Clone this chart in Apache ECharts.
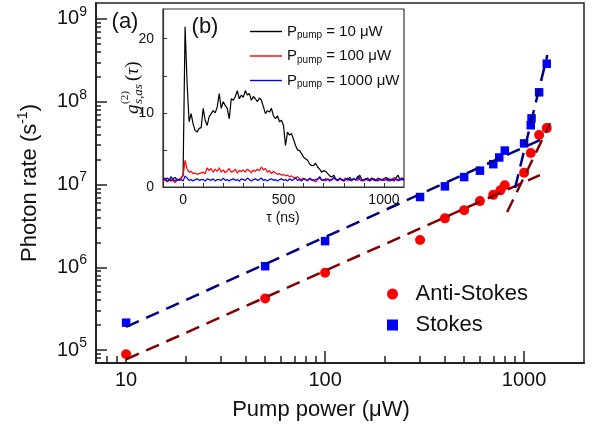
<!DOCTYPE html>
<html>
<head>
<meta charset="utf-8">
<script src="https://cdn.jsdelivr.net/npm/echarts@6/dist/echarts.min.js"></script>
<style>html,body{margin:0;background:#fff}#main{width:593px;height:432px}</style>
</head>
<body>
<div id="main"></div>
<script>
const FONT = 'Liberation Sans'
const SERIF = 'Liberation Serif'

// main panel (a): photon rate vs pump power
const asPower = [10, 50, 100, 300, 400, 500, 600, 700, 760, 800, 1000, 1080, 1190, 1300]
const asRate = [8.9e4, 4.2e5, 8.6e5, 2.13e6, 3.9e6, 4.9e6, 6.3e6, 7.5e6, 8.5e6, 9.8e6, 1.39e7, 2.4e7, 3.97e7, 4.8e7]
const sPower = [10, 50, 100, 300, 400, 500, 600, 700, 750, 800, 1000, 1080, 1090, 1190, 1300]
const sRate = [2.14e5, 1.03e6, 2.07e6, 7.06e6, 9.5e6, 1.23e7, 1.47e7, 1.76e7, 2.12e7, 2.57e7, 3.14e7, 5.2e7, 6.3e7, 1.3e8, 2.88e8]

// dashed fit lines (end points)
const asFitLow = [[10, 7.7e4], [1200, 1.3e7]]
const asFitHigh = [[822, 4.65e6], [1352, 5.5e7]]
const sFitLow = [[10, 1.9e5], [1220, 3.5e7]]
const sFitHigh = [[901, 9.1e6], [1309, 3.67e8]]

const xMajor = [10, 100, 1000]
const xMinor = [8, 9, 20, 30, 40, 50, 60, 70, 80, 90, 200, 300, 400, 500, 600, 700, 800, 900]
const yMajor = [1e5, 1e6, 1e7, 1e8, 1e9]
const yMinor = [8e4, 9e4, 2e5, 3e5, 4e5, 5e5, 6e5, 7e5, 8e5, 9e5,
  2e6, 3e6, 4e6, 5e6, 6e6, 7e6, 8e6, 9e6, 2e7, 3e7, 4e7, 5e7, 6e7, 7e7, 8e7, 9e7,
  2e8, 3e8, 4e8, 5e8, 6e8, 7e8, 8e8, 9e8]

// inset (b): g2 vs tau, sampled every 10 ns from -100 to 1100
const tau = []
for (let t = -100; t <= 1100; t += 10) tau.push(t)
const g10 = [
  1.1, 0.9, 1.2, 1.0, 0.8, 1.1, 1.3, 0.9, 1.0, 1.2,
  1.6, 21.6, 14.0, 8.8, 9.9, 8.5, 7.6, 7.4, 7.9, 8.0,
  10.6, 9.0, 8.3, 9.5, 9.9, 10.3, 10.0, 10.8, 12.6, 10.6,
  11.5, 11.0, 10.6, 9.2, 11.9, 11.7, 12.2, 13.0, 11.9, 12.4,
  12.1, 13.0, 12.4, 12.6, 11.7, 12.2, 11.9, 11.5, 12.0, 11.7,
  10.8, 9.9, 10.3, 10.1, 10.6, 9.6, 9.2, 9.6, 8.8, 9.0,
  8.3, 5.6, 7.4, 7.0, 7.2, 6.4, 5.6, 5.0, 4.9, 4.5,
  4.0, 3.8, 3.6, 3.1, 2.9, 2.9, 3.2, 2.7, 2.4, 2.0,
  2.2, 2.1, 1.8, 1.5, 1.35, 1.6, 1.1, 0.9, 1.2, 1.0,
  0.8, 1.1, 1.0, 1.3, 0.9, 1.1, 1.0, 1.2, 1.6, 1.0,
  0.9, 1.1, 1.2, 0.8, 1.0, 1.1, 0.9, 1.2, 1.0, 0.9,
  1.1, 1.3, 1.0, 0.8, 1.1, 1.0, 1.2, 1.6, 1.0, 1.2,
  1.1]
const g100 = [
  0.8, 1.0, 0.7, 0.9, 1.1, 0.8, 0.6, 0.9, 1.0, 1.2,
  1.5, 3.6, 2.4, 2.0, 2.1, 1.8, 1.9, 1.7, 1.8, 1.9,
  2.0, 1.8, 2.6, 2.2, 2.5, 2.0, 2.4, 2.1, 2.6, 2.0,
  2.3, 1.9, 2.2, 2.5, 2.0, 2.1, 2.4, 1.9, 2.2, 2.1,
  2.3, 2.0, 2.4, 2.2, 1.9, 2.3, 2.1, 2.4, 2.2, 2.7,
  2.3, 2.5, 2.0, 2.2, 1.8, 2.1, 1.9, 1.7, 1.8, 1.6,
  1.7, 1.5, 1.6, 1.4, 1.5, 1.3, 1.2, 1.4, 1.1, 1.0,
  1.2, 1.0, 0.8, 1.1, 0.9, 1.0, 0.7, 1.0, 1.2, 0.9,
  1.0, 0.8, 1.1, 1.0, 0.9, 1.2, 1.0, 0.8, 1.1, 0.9,
  1.0, 1.2, 0.9, 1.0, 0.8, 1.1, 1.0, 0.9, 1.3, 1.0,
  0.8, 1.0, 1.1, 0.9, 1.2, 1.0, 0.8, 1.1, 1.0, 0.9,
  1.2, 1.0, 0.8, 1.1, 0.9, 1.3, 1.0, 0.8, 1.1, 1.0,
  0.9]
const g1000 = [
  1.0, 1.2, 0.8, 0.9, 1.4, 1.0, 0.8, 1.1, 0.9, 1.0,
  0.8, 1.5, 1.2, 0.9, 1.0, 0.8, 1.0, 1.1, 0.9, 1.0,
  1.0, 0.8, 1.1, 1.0, 0.9, 1.1, 0.8, 1.0, 1.0, 0.9,
  1.2, 0.9, 1.0, 0.8, 1.0, 1.1, 0.9, 1.0, 0.8, 1.1,
  1.0, 0.9, 1.2, 1.0, 0.8, 1.0, 1.1, 0.9, 1.0, 1.2,
  0.9, 1.0, 0.8, 1.0, 1.1, 0.9, 1.0, 0.8, 1.0, 1.1,
  0.9, 1.0, 0.8, 1.1, 0.9, 1.0, 1.2, 0.9, 1.0, 0.8,
  1.1, 1.0, 0.9, 1.2, 1.0, 0.8, 1.0, 1.1, 1.4, 1.0,
  0.9, 1.1, 1.0, 0.8, 1.0, 1.3, 1.0, 0.9, 1.1, 1.0,
  0.8, 1.0, 1.2, 0.9, 1.0, 1.1, 0.9, 1.5, 1.0, 0.8,
  1.0, 1.1, 0.9, 1.0, 1.2, 0.9, 1.0, 0.8, 1.1, 1.0,
  0.9, 1.0, 1.2, 0.9, 1.0, 0.8, 1.1, 1.0, 0.9, 1.1,
  1.0]
const insetXLabels = [0, 500, 1000]
const insetXTicks = [0, 100, 200, 300, 400, 500, 600, 700, 800, 900, 1000]
const insetYLabels = [0, 10, 20]
const insetYTicks = [0, 5, 10, 15, 20]
const pumpPowers = ['10', '100', '1000']

const zip = (a, b) => a.map((v, i) => [v, b[i]])
const SQUARE = 'path://M0,0H10V10H0Z'

const chart = echarts.init(document.getElementById('main'))

const axisCol = '#222'
const minorAxis = (extra) => Object.assign({
  axisLine: { show: false, onZero: false },
  axisLabel: { show: false },
  splitLine: { show: false }
}, extra)

const option = {
  animation: false,
  backgroundColor: '#fff',
  grid: [
    { left: 96, top: 3, right: 9, bottom: 69, show: true, borderColor: axisCol, borderWidth: 1.5 },
    { left: 163, top: 9, width: 241, height: 178, show: true, borderColor: '#333', borderWidth: 1.2, backgroundColor: '#fff', z: 5 }
  ],
  xAxis: [
    {
      type: 'log', gridIndex: 0, position: 'bottom', min: 7.06, max: 2000,
      axisLine: { onZero: false, lineStyle: { color: axisCol, width: 2 } },
      axisTick: { inside: true, length: 12, customValues: xMajor, lineStyle: { color: axisCol, width: 1.5 } },
      axisLabel: { customValues: xMajor, formatter: v => String(v), fontSize: 20, fontFamily: FONT, color: '#111', margin: 7 },
      splitLine: { show: false }
    },
    minorAxis({
      type: 'log', gridIndex: 0, position: 'bottom', min: 7.06, max: 2000,
      axisTick: { inside: true, length: 7, customValues: xMinor, lineStyle: { color: axisCol, width: 1.5 } }
    }),
    {
      type: 'value', gridIndex: 1, position: 'bottom', min: -100, max: 1100, z: 6,
      axisLine: { onZero: false, lineStyle: { color: '#333', width: 1.2 } },
      axisTick: { inside: true, length: 4, customValues: insetXTicks, lineStyle: { color: '#333' } },
      axisLabel: { customValues: insetXLabels, formatter: v => String(v), fontSize: 14, fontFamily: FONT, color: '#111', margin: 6 },
      splitLine: { show: false }
    }
  ],
  yAxis: [
    {
      type: 'log', gridIndex: 0, position: 'left', min: 6.97e4, max: 1.56e9,
      axisLine: { onZero: false, lineStyle: { color: axisCol, width: 2 } },
      axisTick: { inside: true, length: 11, customValues: yMajor, lineStyle: { color: axisCol, width: 1.5 } },
      axisLabel: {
        customValues: yMajor, margin: 9,
        formatter: v => '{b|10}{s|' + Math.round(Math.log10(v)) + '}',
        rich: {
          b: { fontSize: 20, fontFamily: FONT, color: '#111', lineHeight: 28 },
          s: { fontSize: 14, fontFamily: FONT, color: '#111', lineHeight: 14, verticalAlign: 'top' }
        }
      },
      splitLine: { show: false }
    },
    minorAxis({
      type: 'log', gridIndex: 0, position: 'left', min: 6.97e4, max: 1.56e9,
      axisTick: { inside: true, length: 5, customValues: yMinor, lineStyle: { color: axisCol, width: 1.5 } }
    }),
    {
      type: 'value', gridIndex: 1, position: 'left', min: 0, max: 24, z: 6,
      axisLine: { onZero: false, lineStyle: { color: '#333', width: 1.2 } },
      axisTick: { inside: true, length: 4, customValues: insetYTicks, lineStyle: { color: '#333' } },
      axisLabel: { customValues: insetYLabels, fontSize: 14, fontFamily: FONT, color: '#111', margin: 9 },
      splitLine: { show: false }
    }
  ],
  legend: [
    {
      data: ['Anti-Stokes', 'Stokes'], orient: 'vertical', left: 387, top: 283,
      itemWidth: 36, itemHeight: 11, itemGap: 9, padding: 0,
      textStyle: { fontSize: 22, fontFamily: FONT, color: '#111', lineHeight: 22 }
    },
    {
      data: pumpPowers.map(p => 'P' + p), orient: 'vertical', left: 250, top: 24, z: 10,
      icon: 'path://M0,0H32V1.4H0Z', symbolKeepAspect: false,
      itemWidth: 32, itemHeight: 1.4, itemGap: 8, padding: 0,
      formatter: name => '{p|P}{sub|pump}{p| = ' + name.slice(1) + ' μW}',
      textStyle: {
        rich: {
          p: { fontSize: 15, fontFamily: FONT, color: '#111', lineHeight: 18 },
          sub: { fontSize: 10, fontFamily: FONT, color: '#111', lineHeight: 10, verticalAlign: 'bottom' }
        }
      }
    }
  ],
  series: [
    { name: 'asFitLow', type: 'line', data: asFitLow, symbol: 'none', z: 4, lineStyle: { color: '#800000', width: 2.5, type: [14, 8] } },
    { name: 'asFitHigh', type: 'line', data: asFitHigh, symbol: 'none', z: 4, lineStyle: { color: '#800000', width: 2.5, type: [14, 8] } },
    { name: 'sFitLow', type: 'line', data: sFitLow, symbol: 'none', z: 4, lineStyle: { color: '#000080', width: 2.5, type: [14, 8] } },
    { name: 'sFitHigh', type: 'line', data: sFitHigh, symbol: 'none', z: 4, lineStyle: { color: '#000080', width: 2.5, type: [14, 8] } },
    { name: 'Anti-Stokes', type: 'scatter', data: zip(asPower, asRate), symbol: 'circle', symbolSize: 10, itemStyle: { color: '#ff0000', opacity: 1 }, z: 3 },
    { name: 'Stokes', type: 'scatter', data: zip(sPower, sRate), symbol: SQUARE, symbolSize: 8.5, itemStyle: { color: '#0000ff', opacity: 1 }, z: 3 },
    { name: 'P10', type: 'line', xAxisIndex: 2, yAxisIndex: 2, data: zip(tau, g10), symbol: 'none', z: 6, lineStyle: { color: '#000', width: 1.2 }, itemStyle: { color: '#000' } },
    { name: 'P100', type: 'line', xAxisIndex: 2, yAxisIndex: 2, data: zip(tau, g100), symbol: 'none', z: 6, lineStyle: { color: '#ff0000', width: 1.2 }, itemStyle: { color: '#ff0000' } },
    { name: 'P1000', type: 'line', xAxisIndex: 2, yAxisIndex: 2, data: zip(tau, g1000), symbol: 'none', z: 6, lineStyle: { color: '#0000ff', width: 1.2 }, itemStyle: { color: '#0000ff' } }
  ],
  graphic: [
    { type: 'text', x: 125, y: 22, style: { text: '(a)', font: '22px ' + FONT, fill: '#111', align: 'center', verticalAlign: 'middle' } },
    { type: 'text', x: 205, y: 27, z: 10, style: { text: '(b)', font: '22px ' + FONT, fill: '#111', align: 'center', verticalAlign: 'middle' } },
    { type: 'text', x: 321, y: 410, style: { text: 'Pump power (μW)', font: '22px ' + FONT, fill: '#111', align: 'center', verticalAlign: 'middle' } },
    {
      type: 'text', x: 30, y: 183, rotation: Math.PI / 2,
      style: {
        text: '{n|Photon rate (s}{s|-1}{n|)}', align: 'center', verticalAlign: 'middle', fill: '#111',
        rich: {
          n: { fontSize: 22, fontFamily: FONT, lineHeight: 28 },
          s: { fontSize: 14, fontFamily: FONT, lineHeight: 14, verticalAlign: 'top' }
        }
      }
    },
    { type: 'text', x: 283, y: 218, z: 10, style: { text: 'τ (ns)', font: '14px ' + FONT, fill: '#111', align: 'center', verticalAlign: 'middle' } },
    {
      type: 'group', x: 133, y: 114, rotation: Math.PI / 2, z: 10,
      children: [
        { type: 'text', x: 0, y: 0, style: { text: 'g', font: 'italic 19px ' + SERIF, fill: '#111', align: 'left', verticalAlign: 'middle' } },
        { type: 'text', x: 10, y: -8, style: { text: '(2)', font: '11px ' + SERIF, fill: '#111', align: 'left', verticalAlign: 'middle' } },
        { type: 'text', x: 10, y: 6, style: { text: 's,as', font: 'italic 13px ' + SERIF, fill: '#111', align: 'left', verticalAlign: 'middle' } },
        {
          type: 'text', x: 33, y: 0,
          style: {
            text: '{u|(}{i|τ}{u|)}', fill: '#111', align: 'left', verticalAlign: 'middle',
            rich: { u: { fontSize: 19, fontFamily: SERIF }, i: { fontSize: 19, fontFamily: SERIF, fontStyle: 'italic' } }
          }
        }
      ]
    }
  ]
}

chart.setOption(option)
</script>
</body>
</html>
